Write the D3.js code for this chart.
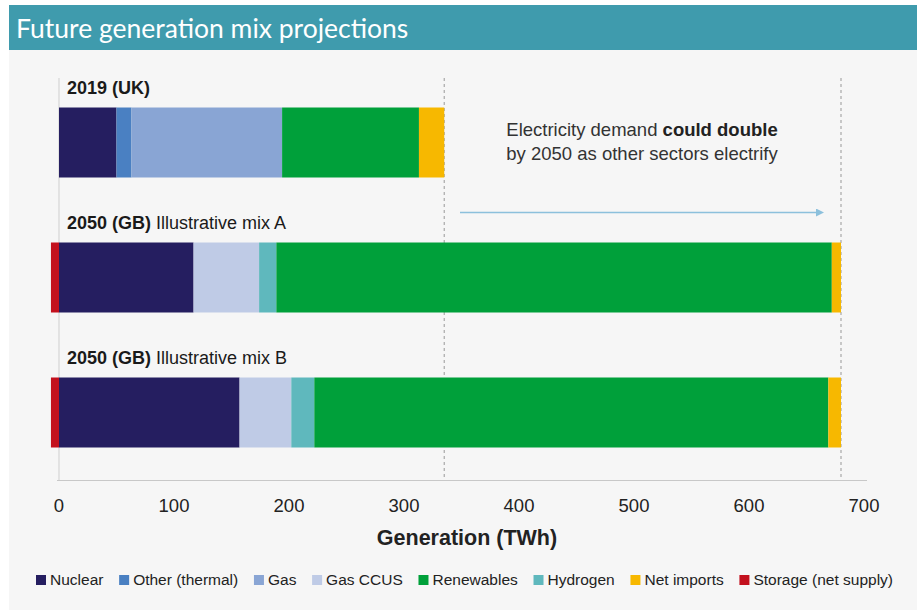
<!DOCTYPE html>
<html><head><meta charset="utf-8">
<script src="https://cdn.jsdelivr.net/npm/d3@7"></script>
<style>
html,body{margin:0;padding:0;background:#fff;}
svg{display:block;}
</style></head>
<body>
<svg id="chart" width="922" height="610"></svg>
<script>
// ---- data ----
const categories = ["2019 (UK)", "2050 (GB) A", "2050 (GB) B"];
const labelBold = ["2019 (UK)", "2050 (GB)", "2050 (GB)"];
const labelRest = ["", " Illustrative mix A", " Illustrative mix B"];
const seriesNames = ["Nuclear", "Other (thermal)", "Gas", "Gas CCUS", "Renewables", "Hydrogen", "Net imports", "Storage (net supply)"];
const seriesColors = ["#251e60", "#4a80c2", "#89a5d4", "#bfcbe6", "#00a03a", "#5fb8bd", "#f7b800", "#c3111e"];
const nuclear   = [50, 117, 157];
const otherTherm= [13, 0, 0];
const gas       = [131, 0, 0];
const gasCCUS   = [0, 57, 45];
const renewables= [119, 483, 447];
const hydrogen  = [0, 15, 20];
const netImports= [22, 8, 11];
const storage   = [0, -7, -7];
const totals    = [335, 680];
const xTicks    = [0, 100, 200, 300, 400, 500, 600, 700];

const seriesData = [nuclear, otherTherm, gas, gasCCUS, renewables, hydrogen, netImports, storage];
// stacking order of the positive segments (indices into seriesData)
const stackOrder = [0, 1, 2, 3, 5, 4, 6];

const svg = d3.select("#chart");
const FONT = "'Liberation Sans', Arial, Helvetica, sans-serif";

// backgrounds
svg.append("rect").attr("x", 9).attr("y", 50).attr("width", 908).attr("height", 560).attr("fill", "#f6f6f6");
svg.append("rect").attr("x", 9).attr("y", 5).attr("width", 908).attr("height", 45).attr("fill", "#3f9bad");
svg.append("text").attr("x", 16).attr("y", 37.5).attr("fill", "#fff")
  .attr("font-family", "Lato, 'Open Sans', sans-serif").attr("font-size", 26.5)
  .text("Future generation mix projections");

// scales
const x = d3.scaleLinear().domain([0, 700]).range([59, 864]);
const y = d3.scaleBand().domain(categories).range([75, 480]).paddingInner(65/135).paddingOuter(65/270);

// axis lines
svg.append("line").attr("x1", x(0)).attr("x2", x(0)).attr("y1", 78).attr("y2", 480).attr("stroke", "#cfcfcf").attr("stroke-width", 1);
svg.append("line").attr("x1", 57).attr("x2", 867).attr("y1", 480.5).attr("y2", 480.5).attr("stroke", "#c8c8c8").attr("stroke-width", 1);

// total dotted lines
svg.selectAll("line.tot").data(totals).enter().append("line")
  .attr("class", "tot")
  .attr("x1", d => x(d)).attr("x2", d => x(d)).attr("y1", 78).attr("y2", 480)
  .attr("stroke", "#a8a8a8").attr("stroke-width", 1.2).attr("stroke-dasharray", "3,3");

// stacked bars
categories.forEach((cat, ci) => {
  let pos = 0;
  const g = svg.append("g");
  const sv = storage[ci];
  if (sv < 0) {
    g.append("rect").attr("x", x(sv)).attr("width", x(0) - x(sv))
      .attr("y", y(cat)).attr("height", y.bandwidth()).attr("fill", seriesColors[7]);
  }
  stackOrder.forEach(s => {
    const v = seriesData[s][ci];
    if (v > 0) {
      g.append("rect").attr("x", x(pos)).attr("width", x(pos + v) - x(pos))
        .attr("y", y(cat)).attr("height", y.bandwidth()).attr("fill", seriesColors[s]);
      pos += v;
    }
  });
  const t = svg.append("text").attr("x", 67).attr("y", y(cat) - 14)
    .attr("font-family", FONT).attr("font-size", 18).attr("fill", "#1a1a1a");
  t.append("tspan").attr("font-weight", "bold").text(labelBold[ci]);
  if (labelRest[ci]) t.append("tspan").text(labelRest[ci]);
});

// x tick labels
svg.selectAll("text.tick").data(xTicks).enter().append("text")
  .attr("class", "tick").attr("x", d => x(d)).attr("y", 512)
  .attr("text-anchor", "middle").attr("font-family", FONT).attr("font-size", 18.5).attr("fill", "#222")
  .text(d => d);

svg.append("text").attr("x", 467).attr("y", 545).attr("text-anchor", "middle")
  .attr("font-family", FONT).attr("font-size", 21.5).attr("font-weight", "bold").attr("fill", "#222")
  .text("Generation (TWh)");

// annotation
const ann = svg.append("text").attr("font-family", FONT).attr("font-size", 18.5).attr("fill", "#333").attr("text-anchor", "middle");
const l1 = ann.append("tspan").attr("x", 642).attr("y", 136);
l1.append("tspan").text("Electricity demand ");
l1.append("tspan").attr("font-weight", "bold").attr("fill", "#222").text("could double");
ann.append("tspan").attr("x", 642).attr("y", 160).text("by 2050 as other sectors electrify");

svg.append("defs").append("marker").attr("id", "arr").attr("viewBox", "0 0 10 10")
  .attr("refX", 0).attr("refY", 5).attr("markerWidth", 12).attr("markerHeight", 8)
  .attr("markerUnits", "userSpaceOnUse").attr("orient", "auto")
  .append("path").attr("d", "M0,0 L10,5 L0,10 Z").attr("fill", "#8cc0dc");
svg.append("line").attr("x1", 460).attr("x2", 816).attr("y1", 212.5).attr("y2", 212.5)
  .attr("stroke", "#8cc0dc").attr("stroke-width", 1.5).attr("marker-end", "url(#arr)");

// legend
const leg = svg.append("g").attr("font-family", FONT).attr("font-size", 15.5).attr("fill", "#222");
const items = seriesNames.map((n, i) => {
  const r = leg.append("rect").attr("y", 575).attr("width", 10).attr("height", 10).attr("fill", seriesColors[i]);
  const t = leg.append("text").attr("y", 585).text(n);
  return {r, t, w: t.node().getComputedTextLength()};
});
const legStart = 36, legEnd = 893;
const used = d3.sum(items, d => 14 + d.w);
const gap = (legEnd - legStart - used) / (items.length - 1);
let lx = legStart;
items.forEach(d => {
  d.r.attr("x", lx);
  d.t.attr("x", lx + 14);
  lx += 14 + d.w + gap;
});
</script>
</body></html>
